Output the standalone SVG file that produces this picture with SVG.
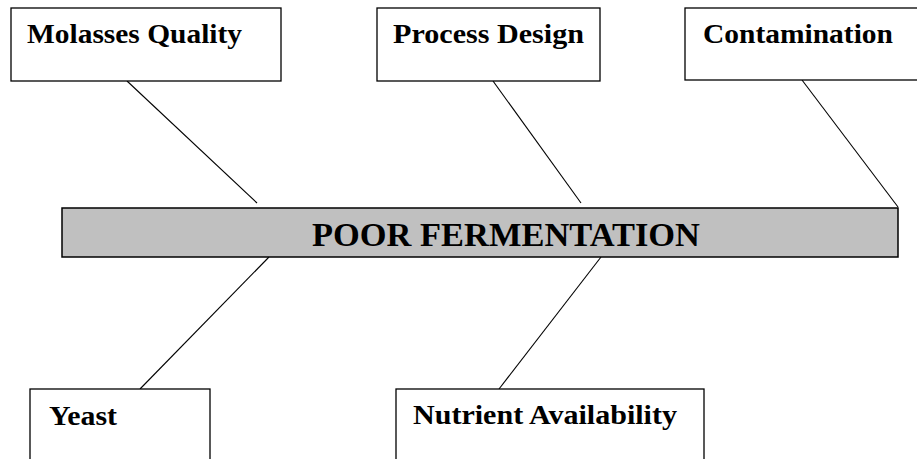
<svg xmlns="http://www.w3.org/2000/svg" width="917" height="459" viewBox="0 0 917 459">
<style>
.box{fill:#fff;stroke:#000;stroke-width:1.3}
.bar{fill:#c0c0c0;stroke:#000;stroke-width:1.5}
.lbl{font-family:"Liberation Serif","Times New Roman",serif;font-weight:bold;font-size:28px;fill:#000}
.title{font-family:"Liberation Serif","Times New Roman",serif;font-weight:bold;font-size:33px;fill:#000}
.con{stroke:#000;stroke-width:1.1;fill:none}
</style>
<rect width="917" height="459" fill="#fff"/>
<g id="connectors">
<line class="con" x1="127" y1="81" x2="257" y2="203"/>
<line class="con" x1="493" y1="81" x2="581" y2="203"/>
<line class="con" x1="802" y1="80" x2="898" y2="207"/>
<line class="con" x1="269" y1="257" x2="140" y2="389"/>
<line class="con" x1="601" y1="257" x2="499" y2="389"/>
</g>
<g id="molasses">
<rect class="box" x="11" y="8" width="270" height="73"/>
<text class="lbl" x="27" y="43" textLength="215" lengthAdjust="spacingAndGlyphs">Molasses Quality</text>
</g>
<g id="process">
<rect class="box" x="377" y="8" width="223" height="73"/>
<text class="lbl" x="393" y="43" textLength="191" lengthAdjust="spacingAndGlyphs">Process Design</text>
</g>
<g id="contamination">
<rect class="box" x="685" y="8" width="240" height="72"/>
<text class="lbl" x="703" y="43" textLength="190" lengthAdjust="spacingAndGlyphs">Contamination</text>
</g>
<g id="effect">
<rect class="bar" x="62" y="208" width="836" height="49"/>
<text class="title" x="312" y="246" textLength="388" lengthAdjust="spacingAndGlyphs">POOR FERMENTATION</text>
</g>
<g id="yeast">
<rect class="box" x="30" y="389" width="180" height="80"/>
<text class="lbl" x="49" y="425" textLength="68" lengthAdjust="spacingAndGlyphs">Yeast</text>
</g>
<g id="nutrient">
<rect class="box" x="396" y="389" width="308" height="80"/>
<text class="lbl" x="413" y="424" textLength="264" lengthAdjust="spacingAndGlyphs">Nutrient Availability</text>
</g>
</svg>
